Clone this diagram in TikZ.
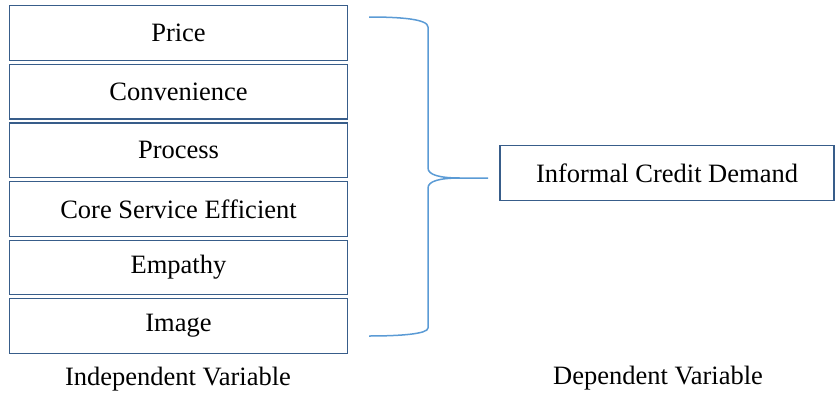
\documentclass[tikz,border=0pt]{standalone}
\usepackage{fontspec}
\setmainfont{Liberation Serif}
\usepackage{tikz}
\usetikzlibrary{positioning}

\definecolor{boxblue}{RGB}{56,93,138}
\definecolor{braceblue}{RGB}{91,155,213}

\tikzset{
  varbox/.style={draw=boxblue, line width=1.2pt, rectangle, minimum width=338pt, minimum height=54.6pt, inner sep=0pt, font=\fontsize{26.5}{30}\selectfont},
  bracepath/.style={draw=braceblue, line width=1.5pt},
  caption/.style={font=\fontsize{26.5}{30}\selectfont}
}

\begin{document}
\begin{tikzpicture}[x=1pt, y=-1pt]
\useasboundingbox (0,0) rectangle (835,394);

\node[varbox] (v1) at (178.5,33) {Price};
\foreach \i/\txt in {2/Convenience, 3/Process, 4/Core Service Efficient, 5/Empathy, 6/Image} {
    \pgfmathtruncatemacro{\prev}{\i-1}
    \node[varbox, below=2.8pt of v\prev] (v\i) {\txt};
}

\node[varbox, minimum width=334pt] (demand) at (667,173) {Informal Credit Demand};

% brace joining the six variables
\coordinate (bracetop) at (369,17);
\coordinate (bracetip) at (488,178);
\coordinate (bracebot) at (369,336);
\draw[bracepath] (bracetop) .. controls (400,17) and (428,19) .. (428,27) -- (428,168)
    .. controls (428,175) and (440,178) .. (460,178) -- (bracetip)
    -- (460,178) .. controls (440,178) and (428,181) .. (428,188) -- (428,328)
    .. controls (428,334) and (400,336) .. (bracebot);

\node[caption] (indep) at (178,379) {Independent Variable};
\node[caption] (dep) at (658,378) {Dependent Variable};
\end{tikzpicture}
\end{document}
